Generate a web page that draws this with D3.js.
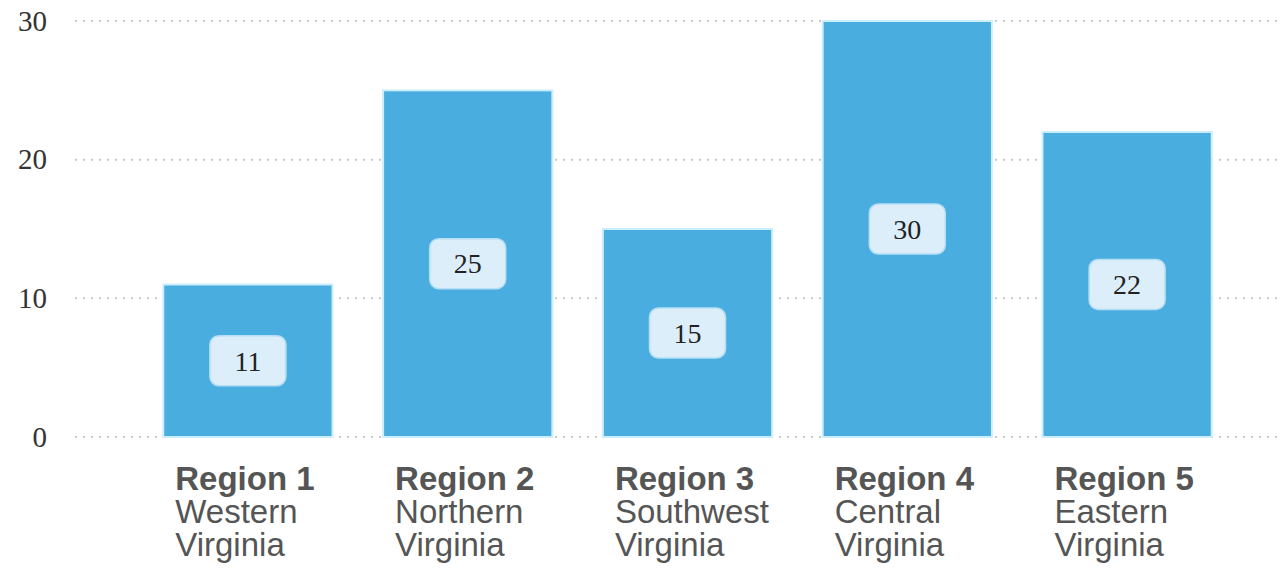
<!DOCTYPE html>
<html>
<head>
<meta charset="utf-8">
<script src="https://cdn.jsdelivr.net/npm/d3@7"></script>
<style>
  html, body { margin: 0; padding: 0; background: #fff; }
  svg { display: block; }
</style>
</head>
<body>
<svg></svg>
<script>
let width = 1283;
let height = 570;

// chart data
const regions = ['Region 1', 'Region 2', 'Region 3', 'Region 4', 'Region 5'];
const areaNames = [
    ['Western', 'Virginia'],
    ['Northern', 'Virginia'],
    ['Southwest', 'Virginia'],
    ['Central', 'Virginia'],
    ['Eastern', 'Virginia']
];
const counts = [11, 25, 15, 30, 22];
const yTicks = [0, 10, 20, 30];

let svg = d3.select('svg')
    .attr('width', width)
    .attr('height', height);
let container = svg.append('g');

let x = d3.scaleBand()
    .domain(regions)
    .range([138, 1237])
    .paddingInner(0.23)
    .paddingOuter(0.115);

let y = d3.scaleLinear()
    .domain([0, 30])
    .range([437, 21]);

// dotted grid lines
container.selectAll('line.grid')
    .data(yTicks)
    .enter()
    .append('line')
    .classed('grid', true)
    .attr('x1', 75)
    .attr('x2', width)
    .attr('y1', d => y(d))
    .attr('y2', d => y(d))
    .attr('stroke', '#c8c8c8')
    .attr('stroke-width', 2)
    .attr('stroke-dasharray', '2,6');

// y axis labels (no axis line)
let yAxis = d3.axisLeft(y)
    .tickValues(yTicks)
    .tickSize(0)
    .tickPadding(0);

let yAxisG = container.append('g')
    .attr('transform', 'translate(47,0)')
    .call(yAxis);
yAxisG.select('.domain').remove();
yAxisG.selectAll('text')
    .attr('font-family', '"Liberation Serif", "Times New Roman", serif')
    .attr('font-size', 29)
    .attr('fill', '#333');

let data = regions.map((r, i) => ({ region: r, name: areaNames[i], value: counts[i] }));

// bars
container.selectAll('rect.bar')
    .data(data)
    .enter()
    .append('rect')
    .classed('bar', true)
    .attr('x', d => x(d.region))
    .attr('y', d => y(d.value))
    .attr('width', x.bandwidth())
    .attr('height', d => y(0) - y(d.value))
    .attr('fill', '#4aade0')
    .attr('stroke', '#cdeffc')
    .attr('stroke-width', 2);

// value labels in rounded boxes
let valueGroup = container.selectAll('g.value')
    .data(data)
    .enter()
    .append('g')
    .classed('value', true)
    .attr('transform', d => `translate(${x(d.region) + x.bandwidth() / 2}, ${(y(d.value) + y(0)) / 2})`);

valueGroup.append('rect')
    .attr('x', -38)
    .attr('y', -25)
    .attr('width', 76)
    .attr('height', 50)
    .attr('rx', 9)
    .attr('fill', '#dbeefa')
    .attr('stroke', '#b4def4')
    .attr('stroke-width', 1.5);

valueGroup.append('text')
    .attr('text-anchor', 'middle')
    .attr('dy', '0.35em')
    .attr('font-family', '"Liberation Serif", "Times New Roman", serif')
    .attr('font-size', 28)
    .attr('fill', '#222')
    .text(d => d.value);

// category labels below the bars: one text per line
let labelGroup = container.selectAll('g.cat')
    .data(data)
    .enter()
    .append('g')
    .classed('cat', true)
    .attr('transform', d => `translate(${x(d.region) + 12}, 490)`);

labelGroup.append('text')
    .attr('font-family', '"Liberation Sans", Arial, sans-serif')
    .attr('font-size', 33)
    .attr('font-weight', 'bold')
    .attr('fill', '#555')
    .text(d => d.region);

labelGroup.each(function (d) {
    let g = d3.select(this);
    d.name.forEach((line, i) => {
        g.append('text')
            .attr('y', 33 * (i + 1))
            .attr('font-family', '"Liberation Sans", Arial, sans-serif')
            .attr('font-size', 33)
            .attr('fill', '#555')
            .text(line);
    });
});
</script>
</body>
</html>
